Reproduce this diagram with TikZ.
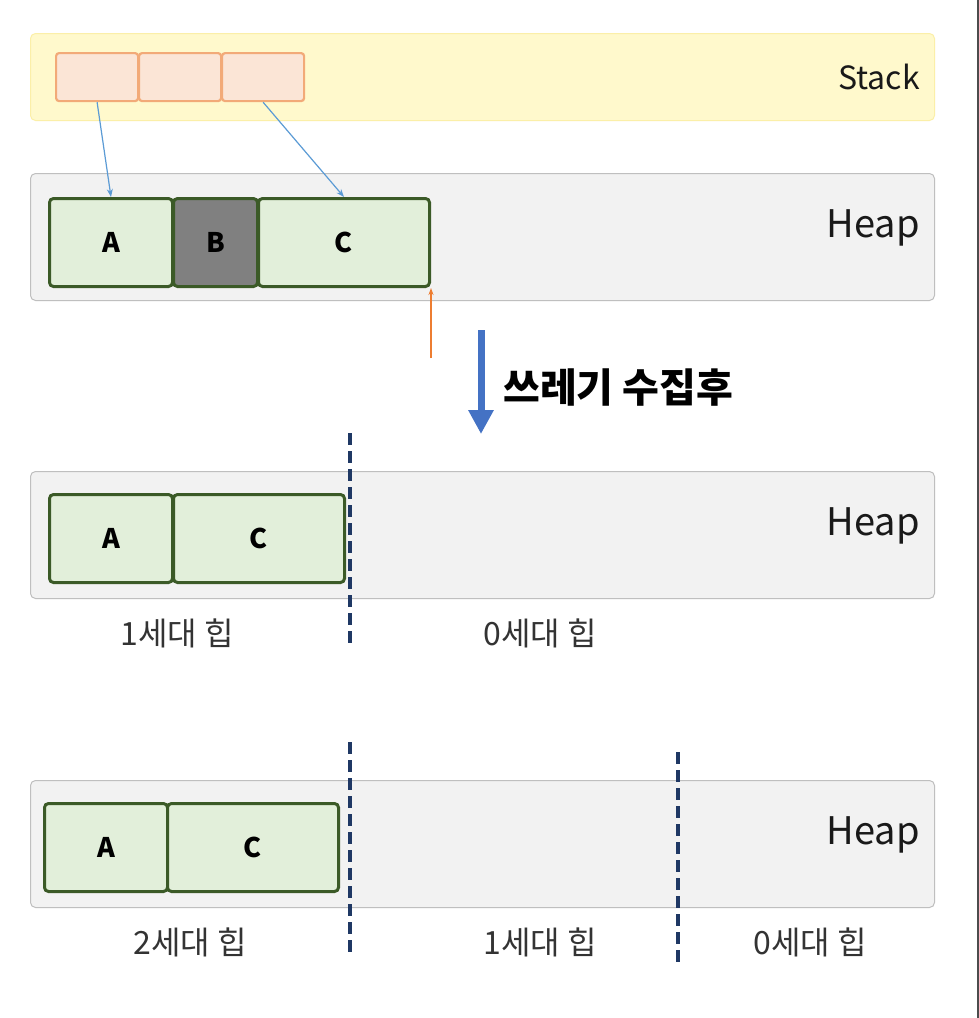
\documentclass[tikz,border=0pt]{standalone}
\usepackage{fontspec}
\setmainfont{Noto Sans CJK KR}
\usepackage{tikz}
\usetikzlibrary{arrows.meta}

\definecolor{stackfill}{HTML}{FFF9CC}
\definecolor{stackline}{HTML}{FBEFA8}
\definecolor{cellfill}{HTML}{FBE5D6}
\definecolor{cellline}{HTML}{F2AA78}
\definecolor{heapfill}{HTML}{F2F2F2}
\definecolor{heapline}{HTML}{BFBFBF}
\definecolor{objfill}{HTML}{E2EFDA}
\definecolor{objline}{HTML}{3B5A27}
\definecolor{ptrblue}{HTML}{5B9BD5}
\definecolor{bigblue}{HTML}{4472C4}
\definecolor{navy}{HTML}{1F3864}
\definecolor{nextorange}{HTML}{ED7D31}

\tikzset{
  stackbox/.style={draw=stackline, fill=stackfill, line width=1pt, rounded corners=5pt,
    anchor=north west, minimum width=904pt, minimum height=87pt, inner sep=0pt},
  heapbox/.style={draw=heapline, fill=heapfill, line width=1pt, rounded corners=5pt,
    anchor=north west, minimum width=904pt, minimum height=127pt, inner sep=0pt},
  slot/.style={draw=cellline, fill=cellfill, line width=2.2pt, rounded corners=3pt,
    anchor=north west, minimum width=82pt, minimum height=48pt, inner sep=0pt},
  obj/.style={draw=objline, fill=objfill, line width=3pt, rounded corners=4pt,
    anchor=north west, minimum height=88pt, inner sep=0pt, font=\fontsize{27}{30}\selectfont\bfseries},
  title/.style={anchor=east, text=black!90, inner sep=0pt},
  gen/.style={text=black!80, inner sep=0pt, font=\fontsize{32}{36}\selectfont},
  ptr/.style={ptrblue, line width=1.2pt, -{Stealth[length=8pt,width=6pt]}},
  boundary/.style={navy, line width=4.5pt, dash pattern=on 12pt off 6pt}
}

\begin{document}
\begin{tikzpicture}[x=1pt, y=-1pt]
  \useasboundingbox[fill=white] (0,0) rectangle (979,1018);
  \draw[black!70, line width=2pt] (978,0) -- (978,1018);

  % stack
  \node[stackbox] (stack) at (30,33) {};
  \node[title, font=\fontsize{32}{36}\selectfont] at (920,77) {Stack};
  \foreach \i/\x in {1/55,2/138,3/221}
    \node[slot] (s\i) at (\x,52) {};

  % heap before collection
  \node[heapbox] (heap1) at (30,173) {};
  \node[title, font=\fontsize{38}{42}\selectfont] at (920,228) {Heap};
  \node[obj, minimum width=123pt] (a1) at (48,197) {A};
  \node[obj, minimum width=84pt, fill=black!50] (b1) at (172,197) {B};
  \node[obj, minimum width=171pt] (c1) at (257,197) {C};
  \draw[ptr] (s1.south) -- (a1.north);
  \draw[ptr] (s3.south) -- (c1.north);
  \coordinate (next) at ([yshift=-70pt]c1.south east);
  \draw[nextorange, line width=1.2pt, -{Stealth[length=7pt,width=5pt]}] (next) -- (c1.south east);

  % garbage collection
  \coordinate (gctop) at (481,330);
  \coordinate (gcbot) at (481,434);
  \draw[bigblue, line width=7pt, -{Triangle[length=24pt,width=24pt]}] (gctop) -- (gcbot);
  \node[anchor=west, inner sep=0pt, font=\fontsize{40}{44}\selectfont\bfseries] (gc) at (503,388) {쓰레기 수집후};

  % heap after first collection
  \node[heapbox] (heap2) at (30,471) {};
  \node[title, font=\fontsize{38}{42}\selectfont] at (920,526) {Heap};
  \node[obj, minimum width=123pt] (a2) at (48,493) {A};
  \node[obj, minimum width=171pt] (c2) at (172,493) {C};
  \draw[boundary] (350,433) -- (350,645);
  \node[gen] at (177,633) {1세대 힙};
  \node[gen] at (540,633) {0세대 힙};

  % heap after second collection
  \node[heapbox] (heap3) at (30,780) {};
  \node[title, font=\fontsize{38}{42}\selectfont] at (920,835) {Heap};
  \node[obj, minimum width=123pt] (a3) at (43,802) {A};
  \node[obj, minimum width=171pt] (c3) at (166,802) {C};
  \draw[boundary] (350,742) -- (350,955);
  \draw[boundary] (678,752) -- (678,962);
  \node[gen] at (190,942) {2세대 힙};
  \node[gen] at (540,942) {1세대 힙};
  \node[gen] at (810,942) {0세대 힙};
\end{tikzpicture}
\end{document}
